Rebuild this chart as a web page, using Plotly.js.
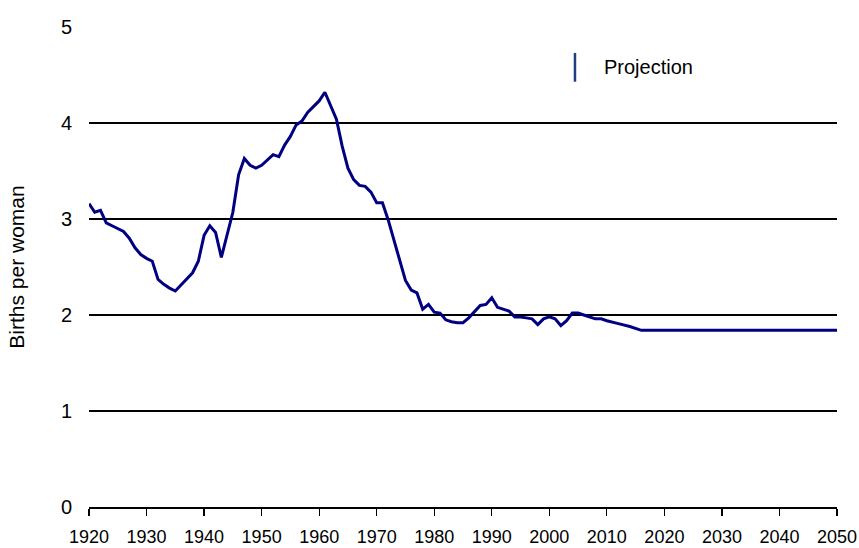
<!DOCTYPE html>
<html>
<head>
<meta charset="utf-8">
<script src="https://cdn.plot.ly/plotly-3.0.1.min.js"></script>
<style>html,body{margin:0;padding:0;background:#fff;}#chart{width:859px;height:548px;}</style>
</head>
<body>
<div id="chart"></div>
<script>
var years = [1920,1921,1922,1923,1924,1925,1926,1927,1928,1929,1930,1931,1932,1933,1934,1935,1936,1937,1938,1939,
  1940,1941,1942,1943,1944,1945,1946,1947,1948,1949,1950,1951,1952,1953,1954,1955,1956,1957,1958,1959,
  1960,1961,1962,1963,1964,1965,1966,1967,1968,1969,1970,1971,1972,1973,1974,1975,1976,1977,1978,1979,
  1980,1981,1982,1983,1984,1985,1986,1987,1988,1989,1990,1991,1992,1993,1994,1995,1996,1997,1998,1999,
  2000,2001,2002,2003,2004,2005,2006,2007,2008,2009,2010,2012,2014,2016,2020,2030,2040,2050];
var births = [3.16,3.07,3.09,2.96,2.93,2.90,2.87,2.80,2.70,2.63,2.59,2.56,2.37,2.32,2.28,2.25,2.31,2.38,2.44,2.56,
  2.83,2.93,2.86,2.60,2.84,3.07,3.46,3.63,3.56,3.53,3.56,3.61,3.67,3.65,3.77,3.86,3.98,4.02,4.11,4.17,
  4.23,4.32,4.18,4.04,3.76,3.53,3.41,3.35,3.34,3.28,3.17,3.17,2.99,2.78,2.55,2.36,2.26,2.23,2.06,2.11,
  2.03,2.02,1.95,1.93,1.92,1.92,1.97,2.03,2.10,2.11,2.18,2.08,2.06,2.04,1.98,1.98,1.97,1.96,1.90,1.96,
  1.98,1.96,1.89,1.94,2.02,2.02,2.00,1.98,1.96,1.96,1.94,1.91,1.88,1.84,1.84,1.84,1.84,1.84];
var xTicks = [1920,1930,1940,1950,1960,1970,1980,1990,2000,2010,2020,2030,2040,2050];
var yTicks = [0,1,2,3,4,5];
var legendLabel = "Projection";
var yTitle = "Births per woman";

var font = "Liberation Sans, Arial, sans-serif";
var trace = {
  x: years, y: births, type: "scatter", mode: "lines",
  line: {color: "#000080", width: 3},
  showlegend: false, hoverinfo: "skip"
};
var layout = {
  width: 859, height: 548,
  margin: {l: 89, r: 22, t: 27, b: 41},
  paper_bgcolor: "#fff", plot_bgcolor: "#fff",
  font: {family: font, size: 18, color: "#000"},
  showlegend: false,
  xaxis: {
    range: [1920, 2050], tickvals: xTicks, ticktext: xTicks.map(String),
    showgrid: false, zeroline: false, showline: true, linecolor: "#000", linewidth: 1.5,
    ticks: "outside", ticklen: 7, tickwidth: 1.2, tickcolor: "#000",
    ticklabelstandoff: 6,
    tickfont: {family: font, size: 18, color: "#000"}
  },
  yaxis: {
    range: [0, 5], tickvals: yTicks, ticktext: yTicks.map(String),
    showgrid: true, gridcolor: "#000", gridwidth: 1.6, zeroline: false, showline: false,
    ticks: "", ticklabelstandoff: 16,
    tickfont: {family: font, size: 20, color: "#000"},
    title: {text: yTitle, font: {family: font, size: 21, color: "#000"}, standoff: 30}
  },
  shapes: [{
    type: "line", xref: "paper", yref: "paper",
    x0: 0.6497, x1: 0.6497, y0: 0.886, y1: 0.946,
    line: {color: "#1f3f7f", width: 2.5}
  }],
  annotations: [{
    xref: "paper", yref: "paper", x: 0.686, y: 0.916, xanchor: "left", yanchor: "middle",
    text: legendLabel, showarrow: false, font: {family: font, size: 20, color: "#000"}
  }]
};
Plotly.newPlot("chart", [trace], layout, {staticPlot: true, displayModeBar: false});
</script>
</body>
</html>
